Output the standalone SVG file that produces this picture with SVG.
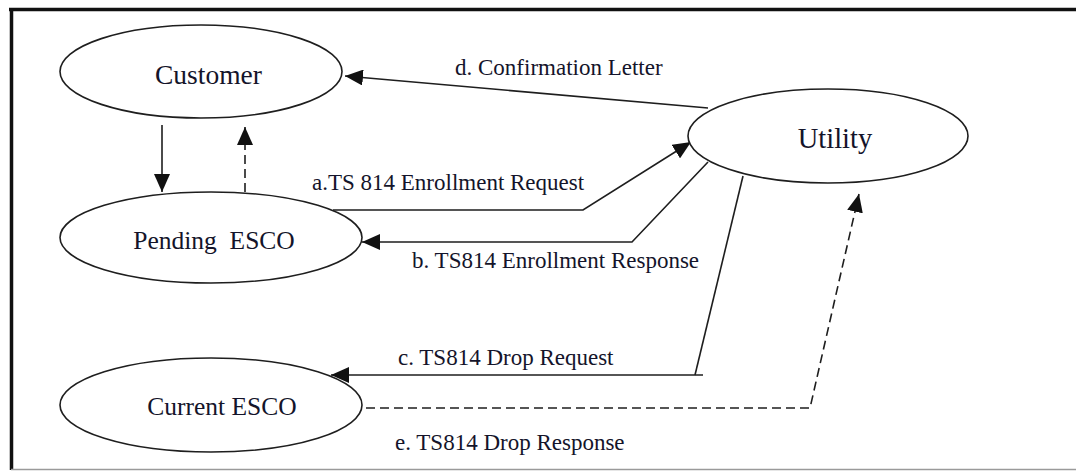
<svg xmlns="http://www.w3.org/2000/svg" width="1076" height="471" viewBox="0 0 1076 471">
  <style>
    .node { fill: #ffffff; stroke: #1e1e1e; stroke-width: 1.6; }
    .nlabel { font-family: "Liberation Serif", "Times New Roman", serif; fill: #14142a; text-anchor: middle; white-space: pre; }
    .elabel { font-family: "Liberation Serif", "Times New Roman", serif; font-size: 23px; fill: #14142a; white-space: pre; }
    .edge { fill: none; stroke: #1e1e1e; stroke-width: 1.6; }
    .dashed { stroke-dasharray: 9 5; }
  </style>
  <defs>
    <marker id="arrow" viewBox="0 0 18 16" refX="18" refY="8" markerWidth="18" markerHeight="16" markerUnits="userSpaceOnUse" orient="auto">
      <path d="M0,0 L18,8 L0,16 z" fill="#111"/>
    </marker>
  </defs>

  <rect width="1076" height="471" fill="#ffffff"/>

  <!-- frame: heavy top and left rules, light bottom rule -->
  <g id="frame">
    <line x1="9" y1="9.5" x2="1076" y2="9.5" stroke="#111" stroke-width="3.5"/>
    <line x1="11.5" y1="8" x2="11.5" y2="470" stroke="#111" stroke-width="3.5"/>
    <line x1="11" y1="469.5" x2="1076" y2="469.5" stroke="#9a9a9a" stroke-width="1.5"/>
  </g>

  <g id="connectors">
    <!-- Customer -> Pending ESCO -->
    <line class="edge" x1="162" y1="125" x2="162" y2="192" marker-end="url(#arrow)"/>
    <!-- Pending ESCO -> Customer (dashed) -->
    <line class="edge dashed" x1="245" y1="192" x2="245" y2="127" marker-end="url(#arrow)"/>
    <!-- d. Utility -> Customer -->
    <line class="edge" x1="708" y1="108" x2="345" y2="76" marker-end="url(#arrow)"/>
    <!-- a. Pending ESCO -> Utility -->
    <polyline class="edge" points="333,210 583,210 691,142" marker-end="url(#arrow)"/>
    <!-- b. Utility -> Pending ESCO -->
    <polyline class="edge" points="708,162 632,242 362,242" marker-end="url(#arrow)"/>
    <!-- c. Utility -> Current ESCO -->
    <polyline class="edge" points="743,176 695,375"/>
    <polyline class="edge" points="703,375 331,375" marker-end="url(#arrow)"/>
    <!-- e. Current ESCO -> Utility (dashed) -->
    <polyline class="edge dashed" points="366,408 810,408 859,194" marker-end="url(#arrow)"/>

    <text class="elabel" font-family="Liberation Serif, serif" font-size="23" x="455" y="75">d. Confirmation Letter</text>
    <text class="elabel" font-family="Liberation Serif, serif" font-size="23" x="312" y="190">a.TS 814 Enrollment Request</text>
    <text class="elabel" font-family="Liberation Serif, serif" font-size="23" x="412" y="268">b. TS814 Enrollment Response</text>
    <text class="elabel" font-family="Liberation Serif, serif" font-size="23" x="398" y="365">c. TS814 Drop Request</text>
    <text class="elabel" font-family="Liberation Serif, serif" font-size="23" x="395" y="450">e. TS814 Drop Response</text>
  </g>

  <g id="customer">
    <ellipse class="node" cx="201" cy="71.5" rx="141" ry="46.5"/>
    <text class="nlabel" font-family="Liberation Serif, serif" font-size="27.5" x="208.5" y="84">Customer</text>
  </g>

  <g id="pending-esco">
    <ellipse class="node" cx="211" cy="237.5" rx="151" ry="45.5"/>
    <text class="nlabel" font-family="Liberation Serif, serif" font-size="25.5" x="214" y="249">Pending  ESCO</text>
  </g>

  <g id="current-esco">
    <ellipse class="node" cx="211" cy="405" rx="151" ry="47"/>
    <text class="nlabel" font-family="Liberation Serif, serif" font-size="25.5" x="222" y="415">Current ESCO</text>
  </g>

  <g id="utility">
    <ellipse class="node" cx="828" cy="136" rx="140" ry="47"/>
    <text class="nlabel" font-family="Liberation Serif, serif" font-size="28.5" x="835" y="148">Utility</text>
  </g>
</svg>
